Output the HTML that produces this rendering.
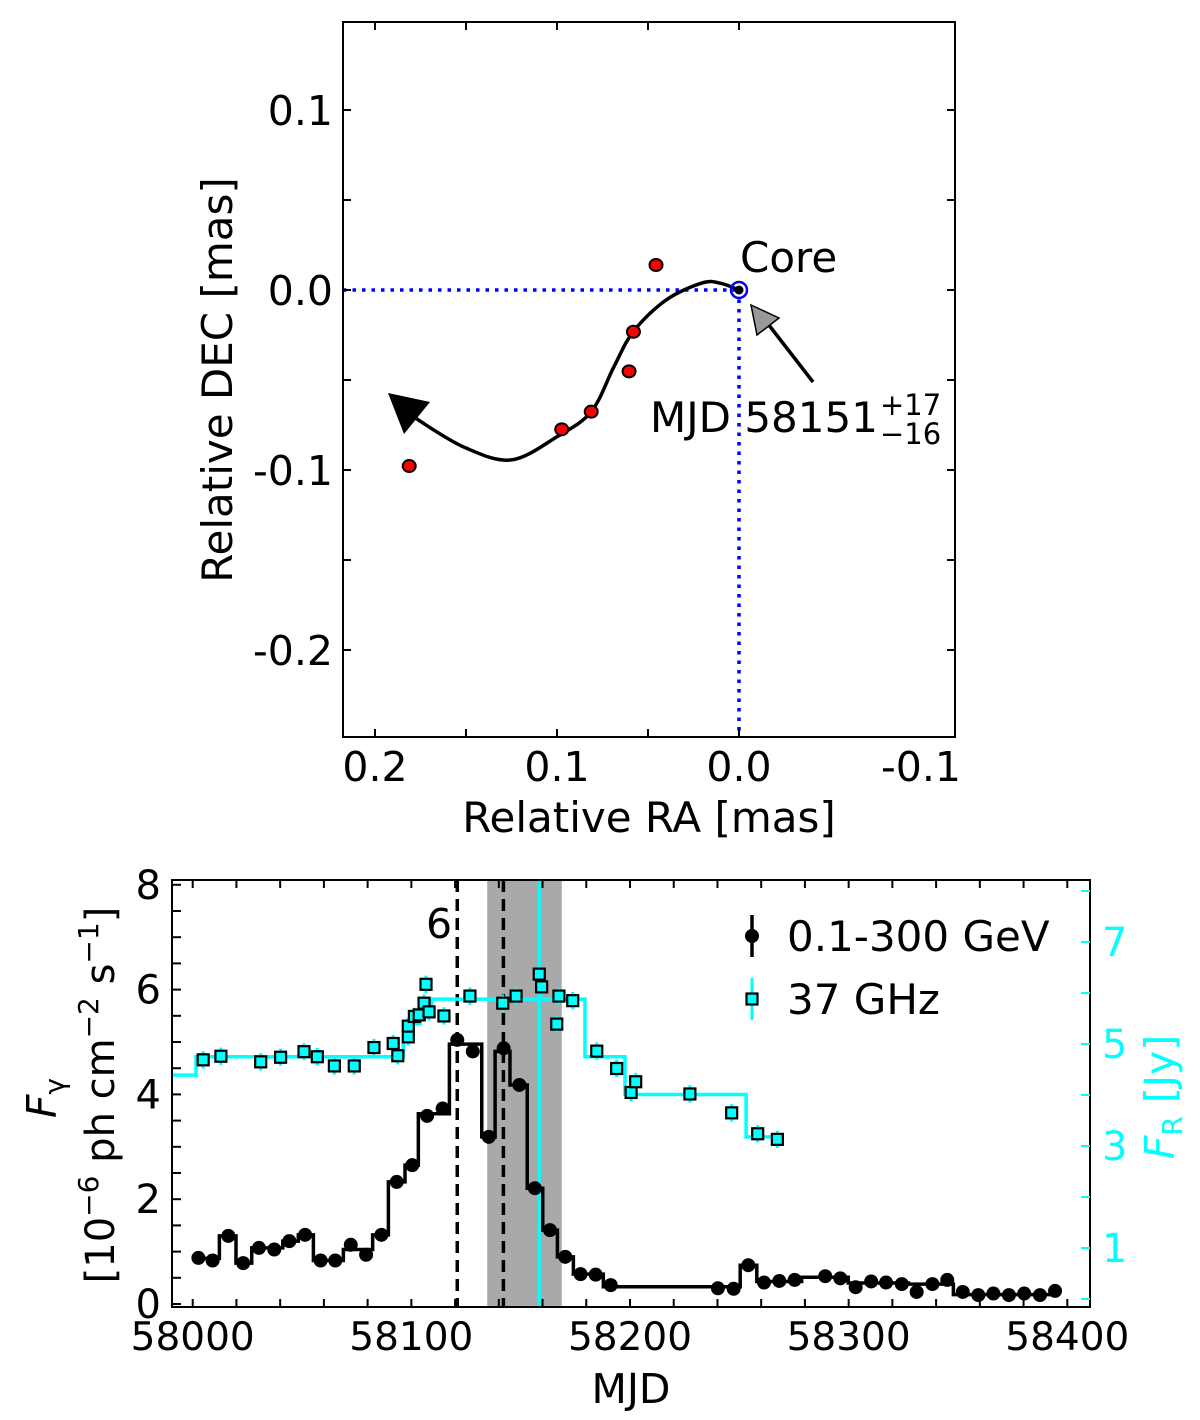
<!DOCTYPE html>
<html><head><meta charset="utf-8"><style>
html,body{margin:0;padding:0;background:#fff}
svg{display:block;font-family:"DejaVu Sans","Liberation Sans",sans-serif}
</style></head><body>
<svg id="fig" width="1200" height="1420" viewBox="0 0 1200 1420" xmlns="http://www.w3.org/2000/svg">
<g id="top"></g>
<g id="bot"></g>
</svg>
<script>
// ---- top panel data ----
const compRA = [0.0456, 0.058, 0.0604, 0.0812, 0.0974, 0.1812];
const compDEC = [0.0139, -0.0232, -0.0452, -0.0676, -0.0774, -0.0978];
const pathRA = [0, 0.01, 0.02, 0.04, 0.058, 0.0687, 0.0812, 0.1, 0.125, 0.15, 0.175, 0.188];
const pathDEC = [0, 0.0037, 0.004, -0.0055, -0.023, -0.0426, -0.0676, -0.0815, -0.0944, -0.0878, -0.073, -0.063];
const raTicks = [0.2, 0.1, 0.0, -0.1];
const raTickLabels = ["0.2", "0.1", "0.0", "-0.1"];
const decTicks = [0.1, 0.0, -0.1, -0.2];
const decTickLabels = ["0.1", "0.0", "-0.1", "-0.2"];
// ---- bottom panel data ----
const gMJD = [58002.6,58009.1,58016.3,58023.1,58030.3,58037.3,58044.2,58051.4,58058.5,58065.2,58072.3,58079.3,58086.3,58093.3,58100.4,58107.2,58114.3,58121.0,58128.1,58135.4,58142.2,58149.4,58156.5,58163.4,58170.4,58177.4,58184.3,58191.2,58240.2,58247.4,58254.1,58261.3,58268.3,58275.3,58289.3,58296.2,58303.2,58310.3,58317.1,58324.3,58331.1,58338.3,58345.1,58352.2,58359.3,58366.2,58373.3,58380.3,58387.5,58394.4];
const gFlux = [0.88,0.83,1.30,0.78,1.07,1.04,1.20,1.32,0.83,0.83,1.13,0.94,1.32,2.33,2.65,3.59,3.73,5.04,4.82,3.19,4.88,4.18,2.21,1.41,0.90,0.57,0.56,0.36,0.30,0.29,0.74,0.41,0.44,0.46,0.53,0.49,0.32,0.43,0.41,0.38,0.23,0.38,0.46,0.23,0.17,0.20,0.17,0.20,0.17,0.25];
const gBlockEdges = [58000,58012.2,58019.8,58027.0,58041.2,58048.3,58055.2,58068.9,58082.3,58089.5,58097.1,58103.2,58117.4,58132.2,58138.3,58145.1,58153.0,58160.1,58166.8,58174.1,58187.8,58250.4,58258.0,58278.5,58299.8,58327.3,58347.9,58394.4];
const gBlockVals = [0.87,1.30,0.78,1.07,1.20,1.32,0.83,1.04,1.32,2.33,2.65,3.63,4.96,3.19,4.82,4.18,2.21,1.41,0.90,0.57,0.33,0.74,0.43,0.51,0.40,0.38,0.18];
const rMJD = [58004.8,58012.9,58031.1,58040.2,58050.9,58057.0,58064.8,58073.9,58082.9,58091.7,58093.8,58098.6,58098.6,58101.4,58103.6,58105.8,58106.7,58108.1,58114.9,58126.8,58141.8,58147.9,58158.5,58159.6,58166.5,58167.5,58173.8,58184.8,58193.9,58200.5,58202.6,58227.4,58246.5,58258.4,58267.4];
const rFlux = [4.69,4.76,4.65,4.74,4.85,4.75,4.57,4.57,4.93,5.01,4.77,5.14,5.35,5.54,5.57,5.80,6.17,5.63,5.55,5.94,5.80,5.94,6.37,6.12,5.39,5.94,5.85,4.86,4.52,4.05,4.26,4.02,3.65,3.24,3.13];
const rBlockEdges = [57990.5,58001.5,58096.3,58100.0,58104.0,58109.3,58179.4,58197.7,58253.1,58268.6];
const rBlockVals = [4.39,4.75,5.05,5.4,5.6,5.88,4.75,4.01,3.18];
const mjdTicks = [58000,58100,58200,58300,58400];
const mjdTickLabels = ["58000","58100","58200","58300","58400"];
const fgTicks = [0,2,4,6,8];
const fgTickLabels = ["0","2","4","6","8"];
const frTicks = [1,3,5,7];
const frTickLabels = ["1","3","5","7"];
const dashedMJD = [58121.0, 58142.1];
const bandMJD = [58134.7, 58168.8];
const coreMJD = [58158.5];

const NS = "http://www.w3.org/2000/svg";
function mk(parent, tag, attrs, text){
  const e = document.createElementNS(NS, tag);
  for (const k in attrs) e.setAttribute(k, attrs[k]);
  if (text !== undefined) e.textContent = text;
  parent.appendChild(e);
  return e;
}

// ======== TOP PANEL ========
const T = document.getElementById('top');
const tx = v => 739 - v * 1820;
const ty = v => 290 - v * 1800;
const TL = 343, TR = 955, TT = 22, TB = 737;

let e;
e = mk(T,'line',{x1:TL,y1:ty(0),x2:tx(0),y2:ty(0),stroke:'#0000ff','stroke-width':3.5,'stroke-dasharray':'3.5 6'});
 
e = mk(T,'line',{x1:tx(0),y1:ty(0),x2:tx(0),y2:TB,stroke:'#0000ff','stroke-width':3.5,'stroke-dasharray':'3.5 6'});
 

(function(){
  const pts = pathRA.map((r,i)=>[tx(r),ty(pathDEC[i])]);
  let d = 'M'+pts[0][0]+','+pts[0][1];
  for (let i=0;i<pts.length-1;i++){
    const p0=pts[Math.max(i-1,0)],p1=pts[i],p2=pts[i+1],p3=pts[Math.min(i+2,pts.length-1)];
    const c1=[p1[0]+(p2[0]-p0[0])/6,p1[1]+(p2[1]-p0[1])/6];
    const c2=[p2[0]-(p3[0]-p1[0])/6,p2[1]-(p3[1]-p1[1])/6];
    d+=' C'+c1[0]+','+c1[1]+' '+c2[0]+','+c2[1]+' '+p2[0]+','+p2[1];
  }
  const c = mk(T,'path',{d:d,fill:'none',stroke:'#000','stroke-width':3.5});
  
  
  const h = mk(T,'polygon',{points:'388,393 430,402 404,434',fill:'#000'});
  
  
})();

compRA.forEach((r,i)=>{
  const c = mk(T,'ellipse',{cx:tx(r),cy:ty(compDEC[i]),rx:6.5,ry:6,fill:'#ff0000',stroke:'#000','stroke-width':2});
  
  
});
e = mk(T,'circle',{cx:tx(0),cy:ty(0),r:8,fill:'none',stroke:'#0000ff','stroke-width':2.5});
 
e = mk(T,'circle',{cx:tx(0),cy:ty(0),r:4.5,fill:'#000'});
 

e = mk(T,'line',{x1:813,y1:382,x2:765,y2:320,stroke:'#000','stroke-width':3.5});
 
e = mk(T,'polygon',{points:'751,305 779,318 757,335',fill:'#999',stroke:'#000','stroke-width':1.5});
 

e = mk(T,'text',{x:740,y:272,'font-size':42,fill:'#000'},'Core');
 
e = mk(T,'text',{x:650,y:432,'font-size':42,fill:'#000'},'MJD 58151');
 
e = mk(T,'text',{x:880,y:415,'font-size':29,fill:'#000'},'+17');
 
e = mk(T,'text',{x:880,y:444,'font-size':29,fill:'#000'},'\u221216');
 

e = mk(T,'rect',{x:TL,y:TT,width:TR-TL,height:TB-TT,fill:'none',stroke:'#000','stroke-width':2});
 
for (let k=-2;k<=4;k++){ const v=0.2-k*0.05; const x=tx(v); if(x<TL||x>TR) continue;
  mk(T,'line',{x1:x,y1:TB,x2:x,y2:TB-8,stroke:'#000','stroke-width':2});
  mk(T,'line',{x1:x,y1:TT,x2:x,y2:TT+8,stroke:'#000','stroke-width':2}); }
for (let k=-2;k<=6;k++){ const v=0.1-k*0.05; const y=ty(v); if(y<TT||y>TB) continue;
  mk(T,'line',{x1:TL,y1:y,x2:TL+8,y2:y,stroke:'#000','stroke-width':2});
  mk(T,'line',{x1:TR,y1:y,x2:TR-8,y2:y,stroke:'#000','stroke-width':2}); }
raTicks.forEach((v,i)=>{ const t=mk(T,'text',{x:tx(v),y:781,'font-size':41,'text-anchor':'middle'},raTickLabels[i]);
    });
decTicks.forEach((v,i)=>{ const t=mk(T,'text',{x:333,y:ty(v)+15,'font-size':41,'text-anchor':'end'},decTickLabels[i]);
    });
e = mk(T,'text',{x:649,y:832,'font-size':42,'text-anchor':'middle'},'Relative RA [mas]');
 
e = mk(T,'text',{x:0,y:0,'font-size':42,'text-anchor':'middle',transform:'translate(232,380) rotate(-90)'},'Relative DEC [mas]');
 

// ======== BOTTOM PANEL ========
const B = document.getElementById('bot');
const BL = 172, BR = 1090, BT = 880, BB = 1307;
const bx = m => 192.7 + (m - 58000) * 2.1865;
const by = f => 1304 - f * 52.4;
const ry = f => 1299 - f * 51;

e = mk(B,'rect',{x:bx(bandMJD[0]),y:BT,width:bx(bandMJD[1])-bx(bandMJD[0]),height:BB-BT,fill:'#a9a9a9'});
 
dashedMJD.forEach(m=>{ const l=mk(B,'line',{x1:bx(m),y1:BT,x2:bx(m),y2:BB,stroke:'#000','stroke-width':3.5,'stroke-dasharray':'12 7'});
    });
coreMJD.forEach(m=>{ const l=mk(B,'line',{x1:bx(m),y1:BT,x2:bx(m),y2:BB,stroke:'#00ffff','stroke-width':3});
    });
e = mk(B,'text',{x:426,y:938,'font-size':41},'6');
 

function steps(edges, vals, yf){
  let d='';
  vals.forEach((v,i)=>{ d += (i===0?'M':'L')+bx(edges[i])+','+yf(v)+' L'+bx(edges[i+1])+','+yf(v)+' '; });
  return d;
}
e = mk(B,'path',{d:steps(rBlockEdges,rBlockVals,ry),fill:'none',stroke:'#00ffff','stroke-width':3.5});
 
rMJD.forEach((m,i)=>{
  const eb=mk(B,'line',{x1:bx(m),y1:ry(rFlux[i]+0.17),x2:bx(m),y2:ry(rFlux[i]-0.17),stroke:'#00ffff','stroke-width':3});
   
});
e = mk(B,'path',{d:steps(gBlockEdges,gBlockVals,by),fill:'none',stroke:'#000','stroke-width':3.5});
 
gMJD.forEach((m,i)=>{
  const c=mk(B,'circle',{cx:bx(m),cy:by(gFlux[i]),r:7,fill:'#000'});
   
});
rMJD.forEach((m,i)=>{
  const s=mk(B,'rect',{x:bx(m)-5.5,y:ry(rFlux[i])-5.5,width:11,height:11,fill:'#00ffff',stroke:'#000','stroke-width':2.2});
   
});

e = mk(B,'rect',{x:BL,y:BT,width:BR-BL,height:BB-BT,fill:'none',stroke:'#000','stroke-width':2});
 
for (let m=58000;m<=58400;m+=20){ const x=bx(m);
  mk(B,'line',{x1:x,y1:BB,x2:x,y2:BB-8,stroke:'#000','stroke-width':2});
  mk(B,'line',{x1:x,y1:BT,x2:x,y2:BT+8,stroke:'#000','stroke-width':2}); }
for (let f=0;f<=8;f+=0.5){ const y=by(f);
  mk(B,'line',{x1:BL,y1:y,x2:BL+9,y2:y,stroke:'#000','stroke-width':2}); }
for (let f=0;f<=8;f+=1){ const y=ry(f);
  mk(B,'line',{x1:BR,y1:y,x2:BR-9,y2:y,stroke:'#00ffff','stroke-width':2}); }
mjdTicks.forEach((v,i)=>{ const t=mk(B,'text',{x:bx(v),y:1350,'font-size':39,'text-anchor':'middle'},mjdTickLabels[i]);
    });
fgTicks.forEach((v,i)=>{ const t=mk(B,'text',{x:161,y:by(v)+14,'font-size':40,'text-anchor':'end'},fgTickLabels[i]);
    });
frTicks.forEach((v,i)=>{ const t=mk(B,'text',{x:1102,y:ry(v)+14,'font-size':40,fill:'#00ffff'},frTickLabels[i]);
    });
e = mk(B,'text',{x:631,y:1403,'font-size':41,'text-anchor':'middle'},'MJD');
 

e = mk(B,'text',{x:0,y:0,'font-size':41,'text-anchor':'middle',transform:'translate(56,1098) rotate(-90)'});
 
mk(e,'tspan',{'font-style':'italic'},'F');
mk(e,'tspan',{'font-size':28,dy:8},'\u03b3');
e = mk(B,'text',{x:0,y:0,'font-size':40,'text-anchor':'middle',transform:'translate(114,1095) rotate(-90)'});
 
mk(e,'tspan',{},'[10');
mk(e,'tspan',{'font-size':28,dy:-16},'\u22126');
mk(e,'tspan',{dy:16},' ph cm');
mk(e,'tspan',{'font-size':28,dy:-16},'\u22122');
mk(e,'tspan',{dy:16},' s');
mk(e,'tspan',{'font-size':28,dy:-16},'\u22121');
mk(e,'tspan',{dy:16},']');
e = mk(B,'text',{x:0,y:0,'font-size':41,'text-anchor':'middle',fill:'#00ffff',transform:'translate(1174,1097) rotate(-90)'});
 
mk(e,'tspan',{'font-style':'italic'},'F');
mk(e,'tspan',{'font-size':28,dy:8},'R');
mk(e,'tspan',{dy:-8},' [Jy]');

const LG = mk(B,'g',{});
 
e = mk(LG,'line',{x1:752,y1:915,x2:752,y2:957,stroke:'#000','stroke-width':3.5});
 
e = mk(LG,'circle',{cx:752,cy:936,r:7,fill:'#000'});
 
e = mk(LG,'text',{x:787,y:951,'font-size':42},'0.1-300 GeV');
 
e = mk(LG,'line',{x1:752,y1:978,x2:752,y2:1020,stroke:'#00ffff','stroke-width':3});
 
e = mk(LG,'rect',{x:746.5,y:993.5,width:11,height:11,fill:'#00ffff',stroke:'#000','stroke-width':2.2});
 
e = mk(LG,'text',{x:787,y:1014,'font-size':42},'37 GHz');
 
</script>
</body></html>
